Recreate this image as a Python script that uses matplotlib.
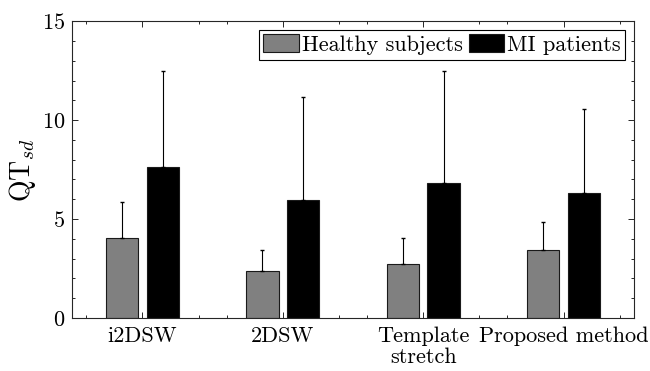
import numpy as np
import matplotlib.pyplot as plt

plt.rcParams["font.family"] = ["cmr10", "DejaVu Serif"]
plt.rcParams["mathtext.fontset"] = "cm"
plt.rcParams["axes.formatter.use_mathtext"] = True

# Values
methods = ["i2DSW", "2DSW", "Template\nstretch", "Proposed method"]
healthy_mean = [4.04, 2.36, 2.74, 3.42]
healthy_sd = [1.83, 1.06, 1.30, 1.44]
mi_mean = [7.61, 5.94, 6.80, 6.33]
mi_sd = [4.86, 5.24, 5.66, 4.23]

x = np.arange(1, len(methods) + 1)
w = 0.23
off = 0.145

fig = plt.figure(figsize=(6.5, 3.71), dpi=100)
ax = fig.add_axes([0.111, 0.143, 0.864, 0.8])

ax.bar(x - off, healthy_mean, w, color="#808080", edgecolor="#1a1a1a",
       linewidth=0.8, label="Healthy subjects", zorder=2)
ax.bar(x + off, mi_mean, w, color="black", edgecolor="#1a1a1a",
       linewidth=0.8, label="MI patients", zorder=2)

ax.errorbar(x - off, healthy_mean, yerr=[np.zeros(4), healthy_sd], fmt="none",
            ecolor="black", elinewidth=0.8, capsize=1.6, capthick=1.0, zorder=3)
ax.errorbar(x + off, mi_mean, yerr=[np.zeros(4), mi_sd], fmt="none",
            ecolor="black", elinewidth=0.8, capsize=1.6, capthick=1.0, zorder=3)

ax.set_xlim(0.5, 4.5)
ax.set_ylim(0, 15)
ax.set_xticks(x)
ax.set_xticklabels(methods, fontsize=16, linespacing=1.1)
ax.set_xticks([0.6, 1.4, 1.6, 2.4, 2.6, 3.4, 3.6, 4.4], minor=True)
ax.set_yticks([0, 5, 10, 15])
ax.set_yticks(np.arange(0, 16, 1), minor=True)
ax.tick_params(axis="y", labelsize=16, pad=5)
ax.tick_params(axis="x", pad=6)
ax.tick_params(which="both", direction="in", top=True, right=True,
               color="#262626", width=0.7)
ax.tick_params(which="major", length=4)
ax.tick_params(which="minor", length=2.5)
for s in ax.spines.values():
    s.set_color("#262626")
    s.set_linewidth(0.8)

ax.set_ylabel("QT$_{sd}$", fontsize=20, labelpad=3)

leg = ax.legend(loc="upper right", ncol=2, fontsize=16, frameon=True,
                fancybox=False, edgecolor="black", framealpha=1,
                handlelength=1.58, handleheight=0.86, handletextpad=0.14,
                columnspacing=0.27, borderpad=0.2, borderaxespad=0.4)
leg.get_frame().set_linewidth(0.8)

fig.savefig("out.png", dpi=100)
